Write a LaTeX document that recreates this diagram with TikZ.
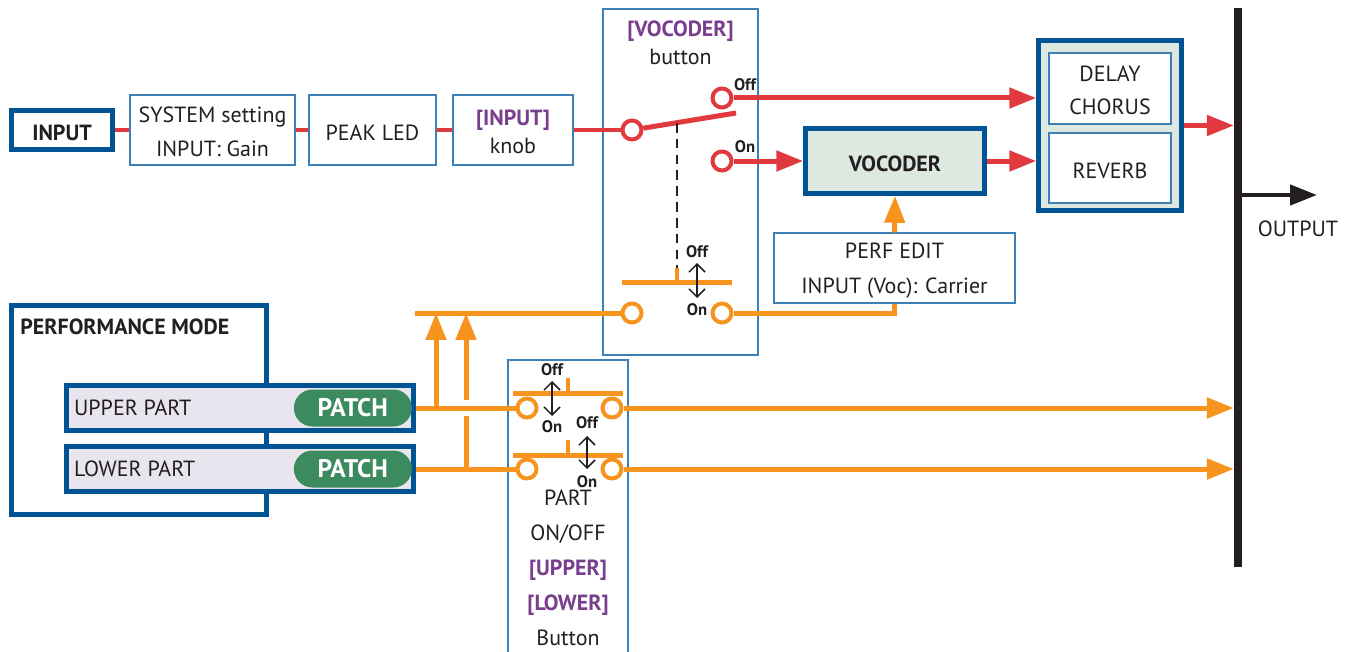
\documentclass[tikz,border=0pt]{standalone}
\usepackage{fontspec}
\setmainfont{PT Sans}
\usetikzlibrary{arrows.meta,positioning}
\definecolor{ink}{HTML}{231F20}
\definecolor{boxblue}{HTML}{005493}
\definecolor{thinblue}{HTML}{3F7FB8}
\definecolor{sigred}{HTML}{E03A3E}
\definecolor{sigorange}{HTML}{F7941E}
\definecolor{keypurple}{HTML}{7A3E8E}
\definecolor{patchgreen}{HTML}{3B8B5F}
\definecolor{partfill}{HTML}{E9E5EF}
\definecolor{fxfill}{HTML}{DDE9E0}

\begin{document}
\begin{tikzpicture}[x=0.02cm,y=-0.02cm]
        \tikzstyle{every node}+=[inner sep=0pt, text=ink, font=\fontsize{12.5}{19}\selectfont]
        \tikzstyle{thinbox}=[draw=thinblue, line width=0.7pt, fill=white, align=center, execute at begin node={\rule{0pt}{12pt}}]
        \tikzstyle{thickbox}=[draw=boxblue, line width=0.09cm, align=center, execute at begin node={\rule{0pt}{12pt}}]
        \tikzstyle{twoline}=[align=center]
        \tikzstyle{redline}=[sigred, line width=0.1cm]
        \tikzstyle{orgline}=[sigorange, line width=0.1cm]
        \tikzstyle{sigarrow}=[-{Triangle[length=0.54cm,width=0.4cm]}]
        \tikzstyle{redjack}=[circle, draw=sigred, fill=white, line width=0.08cm, minimum size=0.38cm]
        \tikzstyle{orgjack}=[circle, draw=sigorange, fill=white, line width=0.08cm, minimum size=0.38cm]
        \tikzstyle{flipline}=[ink, line width=0.9pt, >={Straight Barb[length=0.16cm,width=0.32cm]}, <->]
        \tikzstyle{onoff}=[font=\fontsize{9.5}{10}\selectfont\bfseries]
        \tikzstyle{patchpill}=[fill=patchgreen, rounded corners=0.37cm, minimum width=2.36cm, minimum height=0.74cm, text=white, font=\fontsize{14.5}{16}\selectfont\bfseries]
        \useasboundingbox (0,0) rectangle (1352,652);
        % top row
        \draw (62,130) node (inp) [thickbox, minimum width=2.02cm, minimum height=0.78cm] {\bfseries INPUT};
        \draw (212.5,130) node (sys) [thinbox, minimum width=3.3cm, minimum height=1.4cm] {};
        \draw (212.5,132) node (syslbl) [twoline] {SYSTEM setting\\INPUT: Gain};
        \draw (372.5,130) node (peak) [thinbox, minimum width=2.54cm, minimum height=1.4cm] {PEAK LED};
        \draw (513,130) node (knob) [thinbox, minimum width=2.4cm, minimum height=1.4cm] {};
        \draw (513,132) node (knoblbl) [twoline, font=\fontsize{12.5}{16}\selectfont] {{\color{keypurple}\bfseries [INPUT]}\\knob};
        % vocoder button
        \draw (680.5,182) node (vbtn) [thinbox, minimum width=3.1cm, minimum height=6.92cm] {};
        \draw (680.5,43) node (vbtnlbl) [twoline, font=\fontsize{12.5}{16}\selectfont] {{\color{keypurple}\bfseries [VOCODER]}\\button};
        \draw (632,130) node (c1) [redjack] {};
        \draw (722,98) node (coff) [redjack] {};
        \draw (722,161) node (con) [redjack] {};
        \draw (745,85) node (offr) [onoff] {Off};
        \draw (745,147) node (onr) [onoff] {On};
        \coordinate (lever) at (736,113);
        \coordinate (dashtop) at (677,123);
        \coordinate (dashbot) at (677,268);
        % effects
        \draw (895,161) node (voc) [thickbox, fill=fxfill, minimum width=3.58cm, minimum height=1.3cm] {\bfseries VOCODER};
        \draw (894.5,268) node (perf) [thinbox, minimum width=4.82cm, minimum height=1.4cm] {};
        \draw (894.5,270.5) node (perflbl) [twoline, font=\fontsize{12.5}{20}\selectfont] {PERF EDIT\\INPUT (Voc): Carrier};
        \draw (1110,125.5) node (fx) [thickbox, fill=fxfill, minimum width=2.86cm, minimum height=3.4cm] {};
        \draw (1110,88.5) node (dly) [thinbox, minimum width=2.44cm, minimum height=1.42cm] {};
        \draw (1110,90.5) node (dlylbl) [twoline] {DELAY\\CHORUS};
        \draw (1110,168) node (rev) [thinbox, minimum width=2.44cm, minimum height=1.4cm] {REVERB};
        % output
        \draw (1238,287.5) node (outbar) [fill=ink, minimum width=0.15cm, minimum height=11.18cm] {};
        \coordinate (outend) at (1317,195);
        \draw (1298,229) node (outlbl) {OUTPUT};
        \draw [ink, line width=0.09cm, sigarrow] (outbar.center |- outend) -- (outend);
        % red signal
        \draw [redline] (inp) -- (sys);
        \draw [redline] (sys) -- (peak);
        \draw [redline] (peak) -- (knob);
        \draw [redline] (knob) -- (c1);
        \draw [redline] (c1) -- (lever);
        \draw [redline, sigarrow] (coff) -- (coff -| fx.west);
        \draw [redline, sigarrow] (con) -- (voc.west);
        \draw [redline, sigarrow] (voc.east) -- (voc.east -| fx.west);
        \draw [redline, sigarrow] (fx.east) -- (fx.east -| outbar.west);
        \draw [ink, line width=1.5pt, dash pattern=on 5.5pt off 3.5pt] (dashtop) -- (dashbot);
        % carrier switch
        \coordinate (vbarl) at (622,282);
        \coordinate (vbarr) at (732,282);
        \draw [orgline] (vbarl) -- (vbarr);
        \draw [orgline, line width=0.08cm] (dashbot) -- (dashbot |- vbarl);
        \draw (632,313) node (o1) [orgjack] {};
        \draw (722,313) node (o2) [orgjack] {};
        \coordinate (vflipt) at (697,263);
        \coordinate (vflipb) at (697,298);
        \draw [flipline] (vflipt) -- (vflipb);
        \draw (697,252) node (offv) [onoff] {Off};
        \draw (697,310) node (onv) [onoff] {On};
        \draw [orgline] (o2) -- (o2 -| perf.south) -- (perf.south);
        \draw [orgline, sigarrow] (perf.north) -- (voc.south);
        \coordinate (busl) at (415,313);
        \draw [orgline] (busl) -- (o1);
        % performance mode
        \draw (139,410) node (pm) [thickbox, fill=white, minimum width=5.1cm, minimum height=4.18cm] {};
        \draw (20,327) node (pmlbl) [anchor=west] {\bfseries PERFORMANCE MODE};
        \draw (240,408) node (up) [thickbox, fill=partfill, minimum width=6.94cm, minimum height=0.9cm] {};
        \node (uplbl) [right=0.19cm of up.west] {UPPER PART};
        \node (uppatch) [patchpill, left=0.07cm of up.east] {PATCH};
        \draw (240,469) node (lo) [thickbox, fill=partfill, minimum width=6.94cm, minimum height=0.9cm] {};
        \node (lolbl) [right=0.19cm of lo.west] {LOWER PART};
        \node (lopatch) [patchpill, left=0.07cm of lo.east] {PATCH};
        % part on/off buttons
        \draw (568,510) node (pbtn) [thinbox, minimum width=2.4cm, minimum height=6.0cm] {};
        \draw (568,568) node (pbtnlbl) [twoline, font=\fontsize{12.5}{19.9}\selectfont] {PART\\ON/OFF\\{\color{keypurple}\bfseries [UPPER]}\\{\color{keypurple}\bfseries [LOWER]}\\Button};
        \draw (527,408) node (pu1) [orgjack] {};
        \draw (612,408) node (pu2) [orgjack] {};
        \draw (527,469) node (pl1) [orgjack] {};
        \draw (612,469) node (pl2) [orgjack] {};
        \coordinate (ubarl) at (513,393);
        \coordinate (ubarr) at (623,393);
        \coordinate (utick) at (568,378);
        \coordinate (lbarl) at (513,455);
        \coordinate (lbarr) at (623,455);
        \coordinate (ltick) at (568,440);
        \draw [orgline] (ubarl) -- (ubarr);
        \draw [orgline, line width=0.08cm] (utick) -- (utick |- ubarl);
        \draw [orgline] (lbarl) -- (lbarr);
        \draw [orgline, line width=0.08cm] (ltick) -- (ltick |- lbarl);
        \coordinate (uflipt) at (552,381);
        \coordinate (uflipb) at (552,416);
        \coordinate (lflipt) at (587,436);
        \coordinate (lflipb) at (587,469);
        \draw [flipline] (uflipt) -- (uflipb);
        \draw [flipline] (lflipt) -- (lflipb);
        \draw (552,370) node (offu) [onoff] {Off};
        \draw (552,427) node (onu) [onoff] {On};
        \draw (587,423) node (offl) [onoff] {Off};
        \draw (587,482) node (onl) [onoff] {On};
        \draw [orgline] (up) -- (pu1);
        \draw [orgline, sigarrow] (pu2) -- (pu2 -| outbar.west);
        \draw [orgline] (lo) -- (pl1);
        \draw [orgline, sigarrow] (pl2) -- (pl2 -| outbar.west);
        \coordinate (tapu) at (436,408);
        \coordinate (tapl) at (466,469);
        \coordinate (gapb) at (466,416);
        \coordinate (gapt) at (466,400);
        \draw [orgline, sigarrow] (tapu) -- (tapu |- busl);
        \draw [orgline] (tapl) -- (gapb);
        \draw [orgline, sigarrow] (gapt) -- (gapt |- busl);
\end{tikzpicture}
\end{document}
